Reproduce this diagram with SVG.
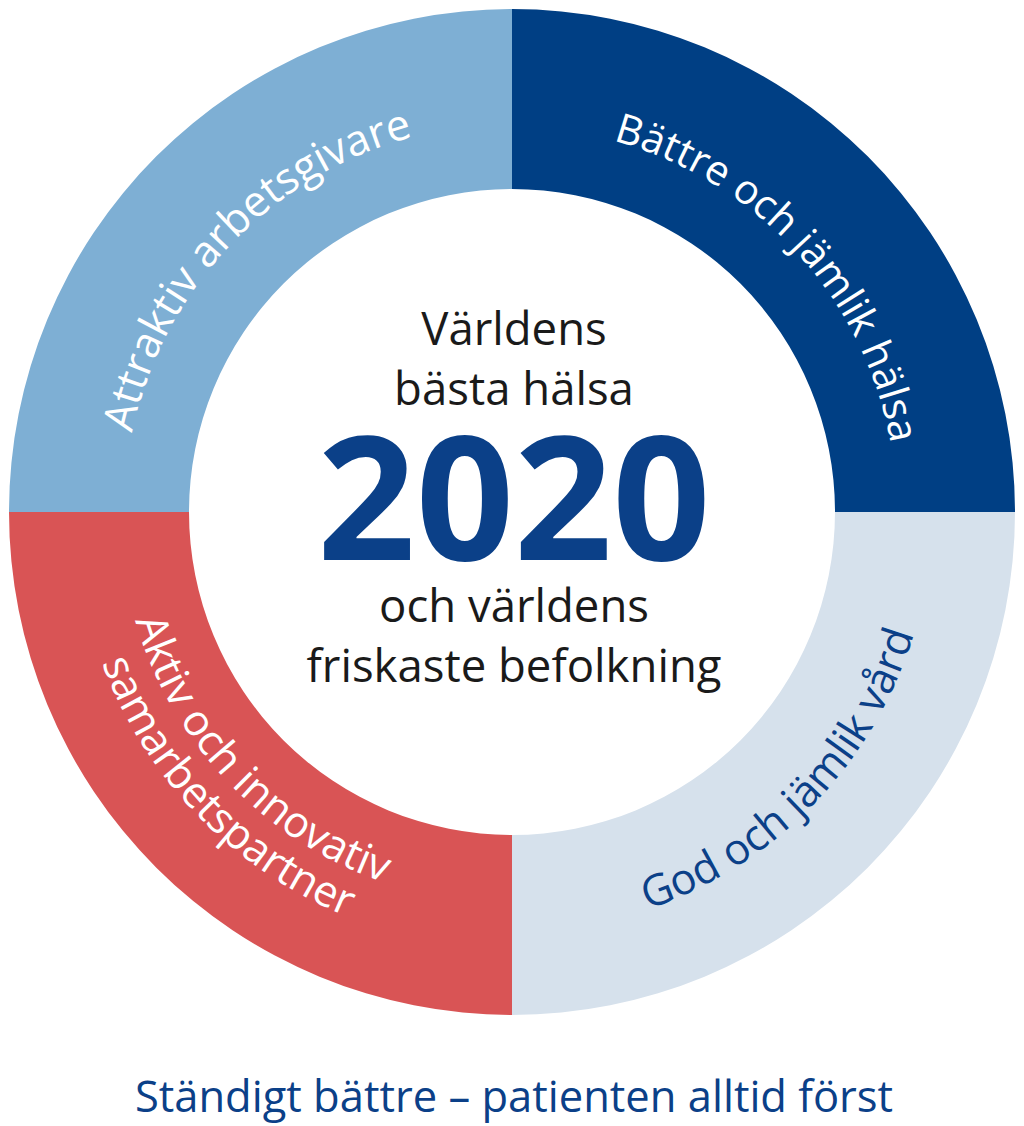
<svg xmlns="http://www.w3.org/2000/svg" xmlns:xlink="http://www.w3.org/1999/xlink" width="1024" height="1126" viewBox="0 0 1024 1126">
<style>
.ring{font-family:"Open Sans","Noto Sans","DejaVu Sans",sans-serif;font-size:43px;font-weight:500;}
.w{fill:#ffffff;}
.b{fill:#0b4088;}
.center{font-family:"Open Sans","Noto Sans","DejaVu Sans",sans-serif;font-size:45.5px;font-weight:500;fill:#1a1a1a;text-anchor:middle;}
</style>
<defs>
<path id="pTL" d="M 124.1 522.2 A 388 388 0 0 1 501.8 124.1"/>
<path id="pTR" d="M 528.8 127.4 A 385 385 0 0 1 896.6 528.8"/>
<path id="pBR" d="M 519.3 931.9 A 420 420 0 0 0 931.9 504.7"/>
<path id="pBL1" d="M 120.1 501.7 A 392 392 0 0 0 501.7 903.9"/>
<path id="pBL2" d="M 75.1 504.4 A 437 437 0 0 0 504.4 948.9"/>
</defs>
<rect width="1024" height="1126" fill="#ffffff"/>
<g id="seg-tl">
<path d="M 9 512 A 503 503 0 0 1 512 9 L 512 189 A 323 323 0 0 0 189 512 Z" fill="#7eafd4"/>
<text class="ring w"><textPath xlink:href="#pTL" href="#pTL" startOffset="50%" text-anchor="middle">Attraktiv arbetsgivare</textPath></text>
</g>
<g id="seg-tr">
<path d="M 512 9 A 503 503 0 0 1 1015 512 L 835 512 A 323 323 0 0 0 512 189 Z" fill="#003f84"/>
<text class="ring w" style="font-size:41px"><textPath xlink:href="#pTR" href="#pTR" startOffset="50%" text-anchor="middle">Bättre och jämlik hälsa</textPath></text>
</g>
<g id="seg-br">
<path d="M 1015 512 A 503 503 0 0 1 512 1015 L 512 835 A 323 323 0 0 0 835 512 Z" fill="#d6e1ec"/>
<text class="ring b"><textPath xlink:href="#pBR" href="#pBR" startOffset="50%" text-anchor="middle">God och jämlik vård</textPath></text>
</g>
<g id="seg-bl">
<path d="M 512 1015 A 503 503 0 0 1 9 512 L 189 512 A 323 323 0 0 0 512 835 Z" fill="#d95455"/>
<text class="ring w"><textPath xlink:href="#pBL1" href="#pBL1" startOffset="50%" text-anchor="middle">Aktiv och innovativ</textPath></text>
<text class="ring w"><textPath xlink:href="#pBL2" href="#pBL2" startOffset="50%" text-anchor="middle">samarbetspartner</textPath></text>
</g>
<g id="center">
<text class="center" x="514" y="345">Världens</text>
<text class="center" x="514" y="405">bästa hälsa</text>
<text x="514" y="560" font-family="'Open Sans','Noto Sans','DejaVu Sans',sans-serif" font-weight="bold" font-size="172" fill="#0b4088" text-anchor="middle">2020</text>
<text class="center" x="514" y="622">och världens</text>
<text class="center" x="514" y="682">friskaste befolkning</text>
</g>
<g id="footer">
<text x="514" y="1112" font-family="'Open Sans','Noto Sans','DejaVu Sans',sans-serif" font-size="43.5" font-weight="500" fill="#0b4088" text-anchor="middle">Ständigt bättre – patienten alltid först</text>
</g>
<g id="connectors"/>
</svg>
